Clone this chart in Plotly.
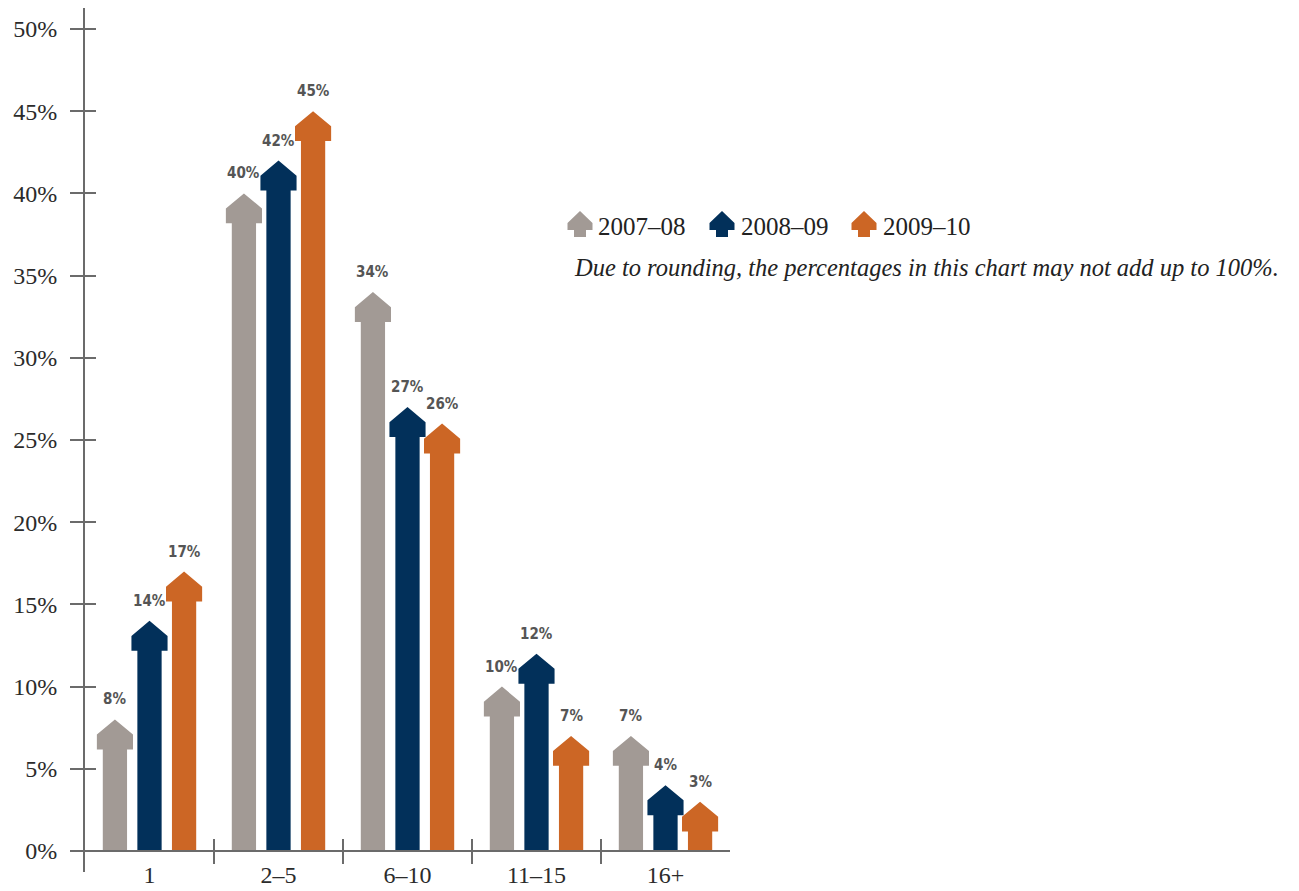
import plotly.graph_objects as go

categories = ["1", "2–5", "6–10", "11–15", "16+"]
series_names = ["2007–08", "2008–09", "2009–10"]
values_2007_08 = [8, 40, 34, 10, 7]
values_2008_09 = [14, 42, 27, 12, 4]
values_2009_10 = [17, 45, 26, 7, 3]
y_tick_values = [0, 5, 10, 15, 20, 25, 30, 35, 40, 45, 50]
y_tick_labels = ["0%", "5%", "10%", "15%", "20%", "25%", "30%", "35%", "40%", "45%", "50%"]
note_text = "Due to rounding, the percentages in this chart may not add up to 100%."

series_values = [values_2007_08, values_2008_09, values_2009_10]
colors = ["#a29a95", "#02305a", "#cc6625"]

W, H = 1299, 891
ML, MR, MT, MB = 85, 9, 8, 19
PW = W - ML - MR
PH = H - MT - MB
Y_RANGE = [-1.277, 51.277]
X_RANGE = [0.5, 5.5]
X_DOMAIN_END = 645 / PW

offsets = [-0.268, 0.0, 0.268]
shaft_half = 0.094
head_half = 0.140
head_slope = 0.92
head_side = 0.90

axis_color = "#6b6b6b"
serif = "Liberation Serif, Times New Roman, serif"
label_font = dict(family="DejaVu Sans Condensed, Liberation Sans Narrow, Arial Narrow, sans-serif",
                  size=15, color="#555555", weight="bold")

fig = go.Figure()

for s, vals in enumerate(series_values):
    xs, ys = [], []
    for i, v in enumerate(vals):
        xc = i + 1 + offsets[s]
        hb = v - head_slope - head_side
        hm = v - head_slope
        xs += [xc - shaft_half, xc - shaft_half, xc - head_half, xc - head_half, xc,
               xc + head_half, xc + head_half, xc + shaft_half, xc + shaft_half,
               xc - shaft_half, None]
        ys += [0, hb, hb, hm, v, hm, hb, hb, 0, 0, None]
    fig.add_trace(go.Scatter(x=xs, y=ys, mode="lines", fill="toself",
                             fillcolor=colors[s], line=dict(width=0, color=colors[s]),
                             name=series_names[s], showlegend=False, hoverinfo="skip"))
    for i, v in enumerate(vals):
        fig.add_annotation(x=i + 1 + offsets[s], y=v, text=f"{v}%", showarrow=False,
                           yshift=20, xanchor="center", yanchor="middle", font=label_font)

# dummy traces to activate overlay axes (inner tick halves)
fig.add_trace(go.Scatter(x=[None], y=[None], yaxis="y2", showlegend=False, hoverinfo="skip"))
fig.add_trace(go.Scatter(x=[None], y=[None], xaxis="x2", showlegend=False, hoverinfo="skip"))

x_pos = (0 - Y_RANGE[0]) / (Y_RANGE[1] - Y_RANGE[0])
boundaries = [1.5, 2.5, 3.5, 4.5]

fig.update_layout(
    width=W, height=H,
    margin=dict(l=ML, r=MR, t=MT, b=MB, autoexpand=False),
    paper_bgcolor="white", plot_bgcolor="white",
    showlegend=False,
    xaxis=dict(range=X_RANGE, domain=[0, X_DOMAIN_END], anchor="free", position=x_pos,
               tickvals=[1, 2, 3, 4, 5], ticktext=categories, ticks="",
               showline=True, linecolor=axis_color, linewidth=2, showgrid=False,
               zeroline=False, tickfont=dict(family=serif, size=24, color="#2b2b2b"),
               ticklabelstandoff=2,
               minor=dict(tickvals=boundaries, ticks="outside", ticklen=12,
                          tickwidth=2, tickcolor=axis_color, showgrid=False),
               fixedrange=True),
    xaxis2=dict(range=X_RANGE, domain=[0, X_DOMAIN_END], anchor="free", position=x_pos,
                overlaying="x", tickvals=boundaries, ticks="inside", ticklen=12,
                tickwidth=2, tickcolor=axis_color, showticklabels=False,
                showline=False, showgrid=False, zeroline=False, side="bottom"),
    yaxis=dict(range=Y_RANGE, tickvals=y_tick_values, ticktext=y_tick_labels,
               ticks="outside", ticklen=13, tickwidth=2, tickcolor=axis_color,
               ticklabelstandoff=8,
               showline=True, linecolor=axis_color, linewidth=2, showgrid=False,
               zeroline=False, tickfont=dict(family=serif, size=24, color="#2b2b2b")),
    yaxis2=dict(range=Y_RANGE, overlaying="y", side="left", anchor="x",
                tickvals=y_tick_values, ticks="inside", ticklen=11, tickwidth=2,
                tickcolor=axis_color, showticklabels=False, showline=False,
                showgrid=False, zeroline=False),
)


def px_x(p):
    return (p - ML) / PW


def px_y(p):
    return 1 - (p - MT) / PH


# legend: arrow icons + labels
icon_path = "M -12.5 3 L 0 15 L 12.5 3 L 12.5 -4 L 6 -4 L 6 -11 L -6 -11 L -6 -4 L -12.5 -4 Z"
legend_icon_x = [580, 722, 864]
legend_text_x = [596, 739, 881]
legend_y = 226
for s in range(3):
    fig.add_shape(type="path", xref="paper", yref="paper", xsizemode="pixel",
                  ysizemode="pixel", xanchor=px_x(legend_icon_x[s]),
                  yanchor=px_y(legend_y), path=icon_path,
                  fillcolor=colors[s], line=dict(width=0))
    fig.add_annotation(xref="paper", yref="paper", x=px_x(legend_text_x[s]), y=px_y(legend_y),
                       text=series_names[s], showarrow=False, xanchor="left", yanchor="middle",
                       font=dict(family=serif, size=25, color="#222222"))

fig.add_annotation(xref="paper", yref="paper", x=px_x(572), y=px_y(267),
                   text=f"<i>{note_text}</i>", showarrow=False, xanchor="left",
                   yanchor="middle", font=dict(family=serif, size=24.5, color="#222222"))

fig.write_html("out.html")
